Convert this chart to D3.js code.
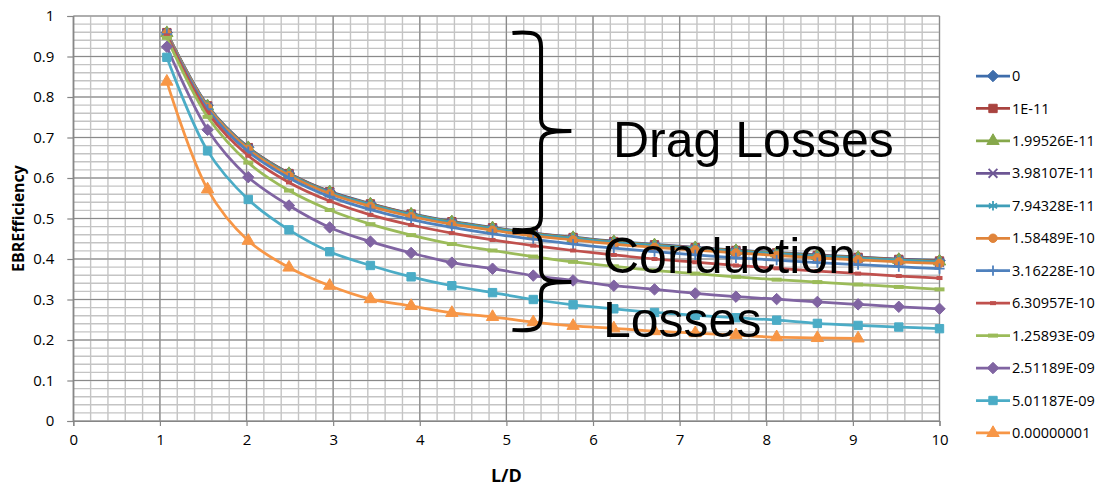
<!DOCTYPE html>
<html>
<head>
<meta charset="utf-8">
<script src="https://cdn.jsdelivr.net/npm/d3@7"></script>
<style>
  body { margin: 0; background: #fff; }
  svg { display: block; }
  .tick-label { font-family: 'Open Sans', sans-serif; font-size: 15px; fill: #000; }
  .legend-label { font-family: 'Open Sans', sans-serif; font-size: 14.5px; fill: #000; }
  .axis-title { font-family: 'Open Sans', sans-serif; font-weight: bold; fill: #000; }
  .note { font-family: 'Liberation Sans', Arial, sans-serif; font-size: 50px; fill: #000; }
</style>
</head>
<body>
<svg width="1096" height="489">
  <g id="vis"></g>
</svg>
<script>
// L/D positions shared by every series
const ldValues = [1.08, 1.55, 2.02, 2.49, 2.96, 3.43, 3.90, 4.37, 4.84, 5.31,
  5.77, 6.24, 6.71, 7.18, 7.65, 8.12, 8.59, 9.06, 9.53, 10.0]

const seriesLabels = ['0', '1E-11', '1.99526E-11', '3.98107E-11', '7.94328E-11',
  '1.58489E-10', '3.16228E-10', '6.30957E-10', '1.25893E-09', '2.51189E-09',
  '5.01187E-09', '0.00000001']

// efficiency per series
const eff0 = [0.959, 0.779, 0.676, 0.612, 0.567, 0.537, 0.512, 0.493, 0.478, 0.464,
  0.454, 0.444, 0.436, 0.429, 0.422, 0.416, 0.410, 0.405, 0.400, 0.396]
const eff1 = [0.959, 0.778, 0.675, 0.611, 0.566, 0.536, 0.511, 0.492, 0.477, 0.463,
  0.453, 0.443, 0.435, 0.428, 0.421, 0.415, 0.409, 0.404, 0.399, 0.395]
const eff2 = [0.958, 0.777, 0.674, 0.610, 0.565, 0.535, 0.510, 0.491, 0.476, 0.462,
  0.452, 0.442, 0.434, 0.427, 0.420, 0.414, 0.408, 0.403, 0.398, 0.394]
const eff3 = [0.957, 0.776, 0.673, 0.609, 0.564, 0.533, 0.508, 0.489, 0.474, 0.460,
  0.450, 0.440, 0.432, 0.425, 0.418, 0.412, 0.406, 0.401, 0.396, 0.392]
const eff4 = [0.958, 0.777, 0.673, 0.609, 0.564, 0.534, 0.509, 0.490, 0.475, 0.461,
  0.451, 0.441, 0.433, 0.426, 0.419, 0.413, 0.407, 0.402, 0.397, 0.393]
const eff5 = [0.957, 0.775, 0.671, 0.606, 0.561, 0.530, 0.505, 0.486, 0.471, 0.457,
  0.447, 0.437, 0.429, 0.422, 0.415, 0.409, 0.403, 0.398, 0.393, 0.389]
const eff6 = [0.955, 0.770, 0.665, 0.600, 0.554, 0.522, 0.497, 0.478, 0.462, 0.449,
  0.437, 0.427, 0.418, 0.410, 0.403, 0.397, 0.391, 0.386, 0.381, 0.376]
const eff7 = [0.952, 0.762, 0.655, 0.589, 0.543, 0.509, 0.484, 0.464, 0.447, 0.433,
  0.421, 0.410, 0.400, 0.392, 0.384, 0.377, 0.370, 0.364, 0.358, 0.353]
const eff8 = [0.946, 0.751, 0.638, 0.569, 0.521, 0.486, 0.459, 0.437, 0.421, 0.406,
  0.393, 0.382, 0.372, 0.364, 0.356, 0.349, 0.343, 0.337, 0.331, 0.325]
const eff9 = [0.924, 0.719, 0.602, 0.532, 0.478, 0.443, 0.415, 0.391, 0.376, 0.359,
  0.347, 0.334, 0.325, 0.315, 0.307, 0.301, 0.294, 0.288, 0.282, 0.277]
const eff10 = [0.898, 0.667, 0.547, 0.472, 0.418, 0.384, 0.356, 0.334, 0.317, 0.300,
  0.287, 0.277, 0.268, 0.261, 0.255, 0.249, 0.241, 0.236, 0.232, 0.228]
const eff11 = [0.838, 0.572, 0.445, 0.379, 0.334, 0.301, 0.284, 0.267, 0.257, 0.244,
  0.235, 0.229, 0.222, 0.217, 0.212, 0.207, 0.205, 0.204]

const xTicks = [0, 1, 2, 3, 4, 5, 6, 7, 8, 9, 10]
const yTicks = [0, 0.1, 0.2, 0.3, 0.4, 0.5, 0.6, 0.7, 0.8, 0.9, 1]

// styling per series (excel look)
const colors = ['#3E6DAB', '#A9433F', '#86A84B', '#6D5694', '#3F9EB8', '#E0843A',
  '#4F81BD', '#C0504D', '#9BBB59', '#8064A2', '#4BACC6', '#F79646']
const markers = ['diamond', 'square', 'triangle', 'times', 'asterisk', 'circle',
  'plus', 'dash', 'longdash', 'diamond', 'square', 'triangle']

const svg = d3.select('svg')
const vis = svg.select('#vis')

const plot = { left: 73.3, right: 939.5, top: 16, bottom: 421 }

const xScale = d3.scaleLinear()
  .domain([0, 10])
  .range([plot.left, plot.right])

const yScale = d3.scaleLinear()
  .domain([0, 1])
  .range([plot.bottom, plot.top])

const allEff = [eff0, eff1, eff2, eff3, eff4, eff5, eff6, eff7, eff8, eff9, eff10, eff11]
const series = seriesLabels.map((name, i) => ({
  name,
  color: colors[i],
  marker: markers[i],
  points: allEff[i].map((v, j) => ({ x: ldValues[j], y: v }))
}))

// minor grid
const grid = vis.append('g').attr('class', 'grid')
grid.append('g')
  .selectAll('line')
  .data(xScale.ticks(50))
  .join('line')
  .attr('x1', d => xScale(d)).attr('x2', d => xScale(d))
  .attr('y1', plot.top).attr('y2', plot.bottom)
  .style('stroke', '#C4C4C4')
  .style('stroke-width', 1.4)
grid.append('g')
  .selectAll('line')
  .data(yScale.ticks(50))
  .join('line')
  .attr('x1', plot.left).attr('x2', plot.right)
  .attr('y1', d => yScale(d)).attr('y2', d => yScale(d))
  .style('stroke', '#C4C4C4')
  .style('stroke-width', 1.4)

// major grid
grid.append('g')
  .selectAll('line')
  .data(xTicks)
  .join('line')
  .attr('x1', d => xScale(d)).attr('x2', d => xScale(d))
  .attr('y1', plot.top).attr('y2', plot.bottom)
  .style('stroke', '#8A8A8A')
  .style('stroke-width', 1.2)
grid.append('g')
  .selectAll('line')
  .data(yTicks)
  .join('line')
  .attr('x1', plot.left).attr('x2', plot.right)
  .attr('y1', d => yScale(d)).attr('y2', d => yScale(d))
  .style('stroke', '#8A8A8A')
  .style('stroke-width', 1.2)

// axes
const xAxis = vis.append('g')
  .attr('transform', `translate(0,${plot.bottom})`)
  .call(d3.axisBottom(xScale).tickValues(xTicks).tickSize(5).tickPadding(8).tickFormat(d3.format('d')))
const yAxis = vis.append('g')
  .attr('transform', `translate(${plot.left},0)`)
  .call(d3.axisLeft(yScale).tickValues(yTicks).tickSize(6).tickPadding(13).tickFormat(d => d === 0 || d === 1 ? d : d3.format('.1f')(d)))

;[xAxis, yAxis].forEach(ax => {
  ax.select('.domain').style('stroke', '#868686').style('stroke-width', 1.2)
  ax.selectAll('.tick line').style('stroke', '#868686').style('stroke-width', 1.2)
  ax.selectAll('.tick text').attr('class', 'tick-label').attr('fill', null)
})

// marker drawing
function drawMarker (sel, type, color) {
  const filled = {
    diamond: [d3.symbolDiamond2, 84],
    square: [d3.symbolSquare, 70],
    triangle: [d3.symbolTriangle, 66],
    circle: [d3.symbolCircle, 56]
  }
  const stroked = {
    times: [d3.symbolTimes, 52],
    asterisk: [d3.symbolAsterisk, 64],
    plus: [d3.symbolPlus, 36]
  }
  if (filled[type]) {
    sel.append('path')
      .attr('d', d3.symbol(filled[type][0], filled[type][1])())
      .style('fill', color)
      .style('stroke', color)
      .style('stroke-width', 1)
  } else if (stroked[type]) {
    sel.append('path')
      .attr('d', d3.symbol(stroked[type][0], stroked[type][1])())
      .style('fill', 'none')
      .style('stroke', color)
      .style('stroke-width', 1.8)
  } else {
    const w = type === 'dash' ? 6 : 10
    sel.append('rect')
      .attr('x', -w / 2).attr('y', -2)
      .attr('width', w).attr('height', 4)
      .style('fill', color)
  }
}

// series lines + markers
const line = d3.line()
  .x(d => xScale(d.x))
  .y(d => yScale(d.y))
  .curve(d3.curveCatmullRom.alpha(0.5))

const seriesG = vis.append('g')
  .selectAll('g')
  .data(series)
  .join('g')

seriesG.append('path')
  .attr('d', d => line(d.points))
  .style('fill', 'none')
  .style('stroke', d => d.color)
  .style('stroke-width', 2.75)

seriesG.each(function (s) {
  d3.select(this).selectAll('g.mk')
    .data(s.points)
    .join('g')
    .attr('class', 'mk')
    .attr('transform', d => `translate(${xScale(d.x)},${yScale(d.y)})`)
    .each(function () { drawMarker(d3.select(this), s.marker, s.color) })
})

// axis titles
vis.append('text')
  .attr('class', 'axis-title')
  .attr('x', xScale(5))
  .attr('y', 482)
  .style('text-anchor', 'middle')
  .style('font-size', '18px')
  .text('L/D')

vis.append('text')
  .attr('class', 'axis-title')
  .attr('transform', `translate(24,${yScale(0.5)}) rotate(-90)`)
  .style('text-anchor', 'middle')
  .style('font-size', '16px')
  .text('EBREfficiency')

// legend
const legend = vis.append('g')
  .attr('transform', 'translate(976,76)')
const legendRow = legend.selectAll('g')
  .data(series)
  .join('g')
  .attr('transform', (d, i) => `translate(0,${i * 32.45})`)
legendRow.append('line')
  .attr('x1', 0).attr('x2', 34)
  .style('stroke', d => d.color)
  .style('stroke-width', 2.75)
legendRow.each(function (s) {
  const m = d3.select(this).append('g').attr('transform', 'translate(17,0)')
  drawMarker(m, s.marker, s.color)
})
legendRow.append('text')
  .attr('class', 'legend-label')
  .attr('x', 36)
  .attr('dy', '0.35em')
  .text(d => d.name)

// braces and notes (data coords)
function brace (xEnd, xMid, xTip, yTop, yTip, yBot) {
  const x0 = xScale(xEnd)
  const x1 = xScale(xMid)
  const x2 = xScale(xTip)
  const y0 = yScale(yTop)
  const ym = yScale(yTip)
  const y1 = yScale(yBot)
  return `M${x0},${y0} C${x1 - 4},${y0 - 2} ${x1},${y0 + 2} ${x1},${y0 + 14}` +
    ` L${x1},${ym - 12} C${x1},${ym - 2} ${x1 + 6},${ym} ${x2},${ym}` +
    ` M${x2},${ym} C${x1 + 6},${ym} ${x1},${ym + 2} ${x1},${ym + 12}` +
    ` L${x1},${y1 - 14} C${x1},${y1 - 2} ${x1 - 4},${y1 + 2} ${x0},${y1}`
}

vis.append('path')
  .attr('d', brace(5.07, 5.4, 5.75, 0.958, 0.716, 0.472))
  .style('fill', 'none')
  .style('stroke', '#000')
  .style('stroke-width', 4)
vis.append('path')
  .attr('d', brace(5.07, 5.4, 5.75, 0.466, 0.343, 0.225))
  .style('fill', 'none')
  .style('stroke', '#000')
  .style('stroke-width', 4)

vis.append('text').attr('class', 'note')
  .attr('x', 613).attr('y', 157).text('Drag Losses')
vis.append('text').attr('class', 'note')
  .attr('x', 603).attr('y', 273).text('Conduction')
vis.append('text').attr('class', 'note')
  .attr('x', 603).attr('y', 337).text('Losses')
</script>
</body>
</html>
